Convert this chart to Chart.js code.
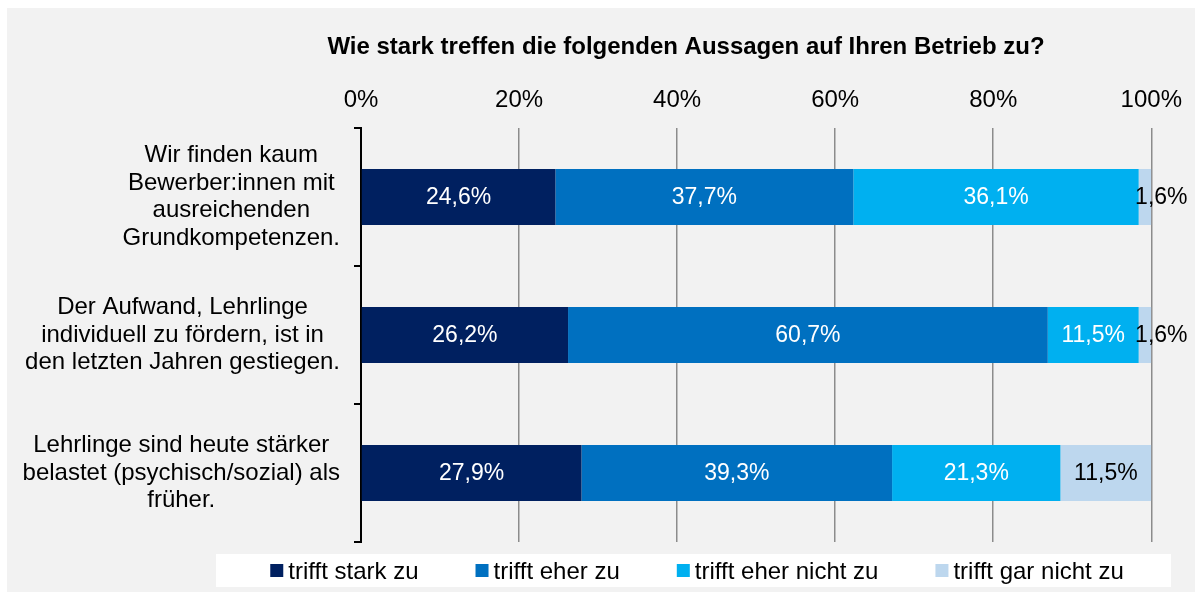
<!DOCTYPE html>
<html>
<head>
<meta charset="utf-8">
<script src="https://cdn.jsdelivr.net/npm/chart.js@4.4.0/dist/chart.umd.min.js"></script>
<style>
  html, body { margin: 0; padding: 0; background: #fff; }
  #wrap { width: 1195px; height: 592px; }
</style>
</head>
<body>
<div id="wrap"><canvas id="c" width="1195" height="592"></canvas></div>
<script>
const title = 'Wie stark treffen die folgenden Aussagen auf Ihren Betrieb zu?';
const statements = [
  ['Wir finden kaum', 'Bewerber:innen mit', 'ausreichenden', 'Grundkompetenzen.'],
  ['Der Aufwand, Lehrlinge', 'individuell zu fördern, ist in', 'den letzten Jahren gestiegen.'],
  ['Lehrlinge sind heute stärker', 'belastet (psychisch/sozial) als', 'früher.']
];
const seriesNames = ['trifft stark zu', 'trifft eher zu', 'trifft eher nicht zu', 'trifft gar nicht zu'];
const starkZu = [24.6, 26.2, 27.9];
const eherZu = [37.7, 60.7, 39.3];
const eherNichtZu = [36.1, 11.5, 21.3];
const garNichtZu = [1.6, 1.6, 11.5];
const xTicks = [0, 20, 40, 60, 80, 100];

const colors = ['#002060', '#0070c0', '#00b0f0', '#bdd7ee'];
const labelColors = ['#fff', '#fff', '#fff', '#000'];
const FONT = '"Liberation Sans", Arial, sans-serif';

const fmt = v => v.toFixed(1).replace('.', ',') + '%';

const decor = {
  id: 'decor',
  beforeDraw(chart) {
    const ctx = chart.ctx;
    ctx.save();
    ctx.fillStyle = '#fff';
    ctx.fillRect(0, 0, chart.width, chart.height);
    ctx.fillStyle = '#f2f2f2';
    ctx.fillRect(7, 8, chart.width - 7, chart.height - 8);
    ctx.restore();
  },
  afterDraw(chart) {
    const ctx = chart.ctx;
    ctx.save();
    // title
    ctx.fillStyle = '#000';
    ctx.font = 'bold 24px ' + FONT;
    ctx.textAlign = 'center';
    ctx.textBaseline = 'middle';
    ctx.fillText(title, 686, 47);

    // category labels: centered lines, block right aligned
    const y = chart.scales.y;
    ctx.font = '24px ' + FONT;
    statements.forEach((lines, i) => {
      const cy = y.getPixelForValue(i);
      const w = Math.max(...lines.map(l => ctx.measureText(l).width));
      const cx = 340 - w / 2;
      const lh = 27.5;
      lines.forEach((l, j) => {
        ctx.fillText(l, cx, cy + (j - (lines.length - 1) / 2) * lh);
      });
    });

    // data labels
    ctx.font = '23px ' + FONT;
    chart.data.datasets.forEach((ds, di) => {
      const meta = chart.getDatasetMeta(di);
      meta.data.forEach((el, i) => {
        const v = ds.data[i];
        let x = (el.x + el.base) / 2;
        let col = labelColors[di];
        if (v < 5) { x = el.x + 10; col = '#000'; }
        ctx.fillStyle = col;
        ctx.fillText(fmt(v), x, el.y + 1);
      });
    });

    // legend
    ctx.fillStyle = '#fff';
    ctx.fillRect(216, 554, 955, 33);
    ctx.font = '24px ' + FONT;
    const gapBox = 5, gapItem = 57, sq = 13;
    const widths = seriesNames.map(n => ctx.measureText(n).width);
    const total = widths.reduce((a, w) => a + sq + gapBox + w, 0) + gapItem * (seriesNames.length - 1);
    let lx = 697 - total / 2;
    const ly = 571;
    ctx.textAlign = 'left';
    seriesNames.forEach((n, i) => {
      ctx.fillStyle = colors[i];
      ctx.fillRect(lx, ly - 7, sq, sq);
      ctx.fillStyle = '#000';
      ctx.fillText(n, lx + sq + gapBox, ly + 1);
      lx += sq + gapBox + widths[i] + gapItem;
    });
    ctx.restore();
  }
};

const values = [starkZu, eherZu, eherNichtZu, garNichtZu];

new Chart(document.getElementById('c'), {
  type: 'bar',
  data: {
    labels: statements.map(s => s.join(' ')),
    datasets: seriesNames.map((n, i) => ({
      label: n,
      data: values[i],
      backgroundColor: colors[i],
      borderWidth: 0,
      categoryPercentage: 1,
      barPercentage: 0.405
    }))
  },
  options: {
    indexAxis: 'y',
    responsive: false,
    animation: false,
    layout: { padding: { top: 0, left: 0, right: 37, bottom: 50 } },
    plugins: { legend: { display: false }, tooltip: { enabled: false }, title: { display: false } },
    scales: {
      x: {
        position: 'top',
        stacked: true,
        min: 0, max: 100,
        afterFit: s => { s.height = 128; },
        afterBuildTicks: s => { s.ticks = xTicks.map(v => ({ value: v })); },
        ticks: {
          padding: 13,
          color: '#000',
          font: { family: FONT, size: 24 },
          callback: v => v + '%'
        },
        grid: { color: '#8c8c8c', lineWidth: 1.5, drawTicks: false },
        border: { display: false }
      },
      y: {
        stacked: true,
        afterFit: s => { s.width = 361; },
        ticks: { display: false },
        grid: { offset: true, drawOnChartArea: false, drawTicks: true, tickLength: 7, color: '#000', lineWidth: 2 },
        border: { display: true, color: '#000', width: 2 }
      }
    }
  },
  plugins: [decor]
});
</script>
</body>
</html>
